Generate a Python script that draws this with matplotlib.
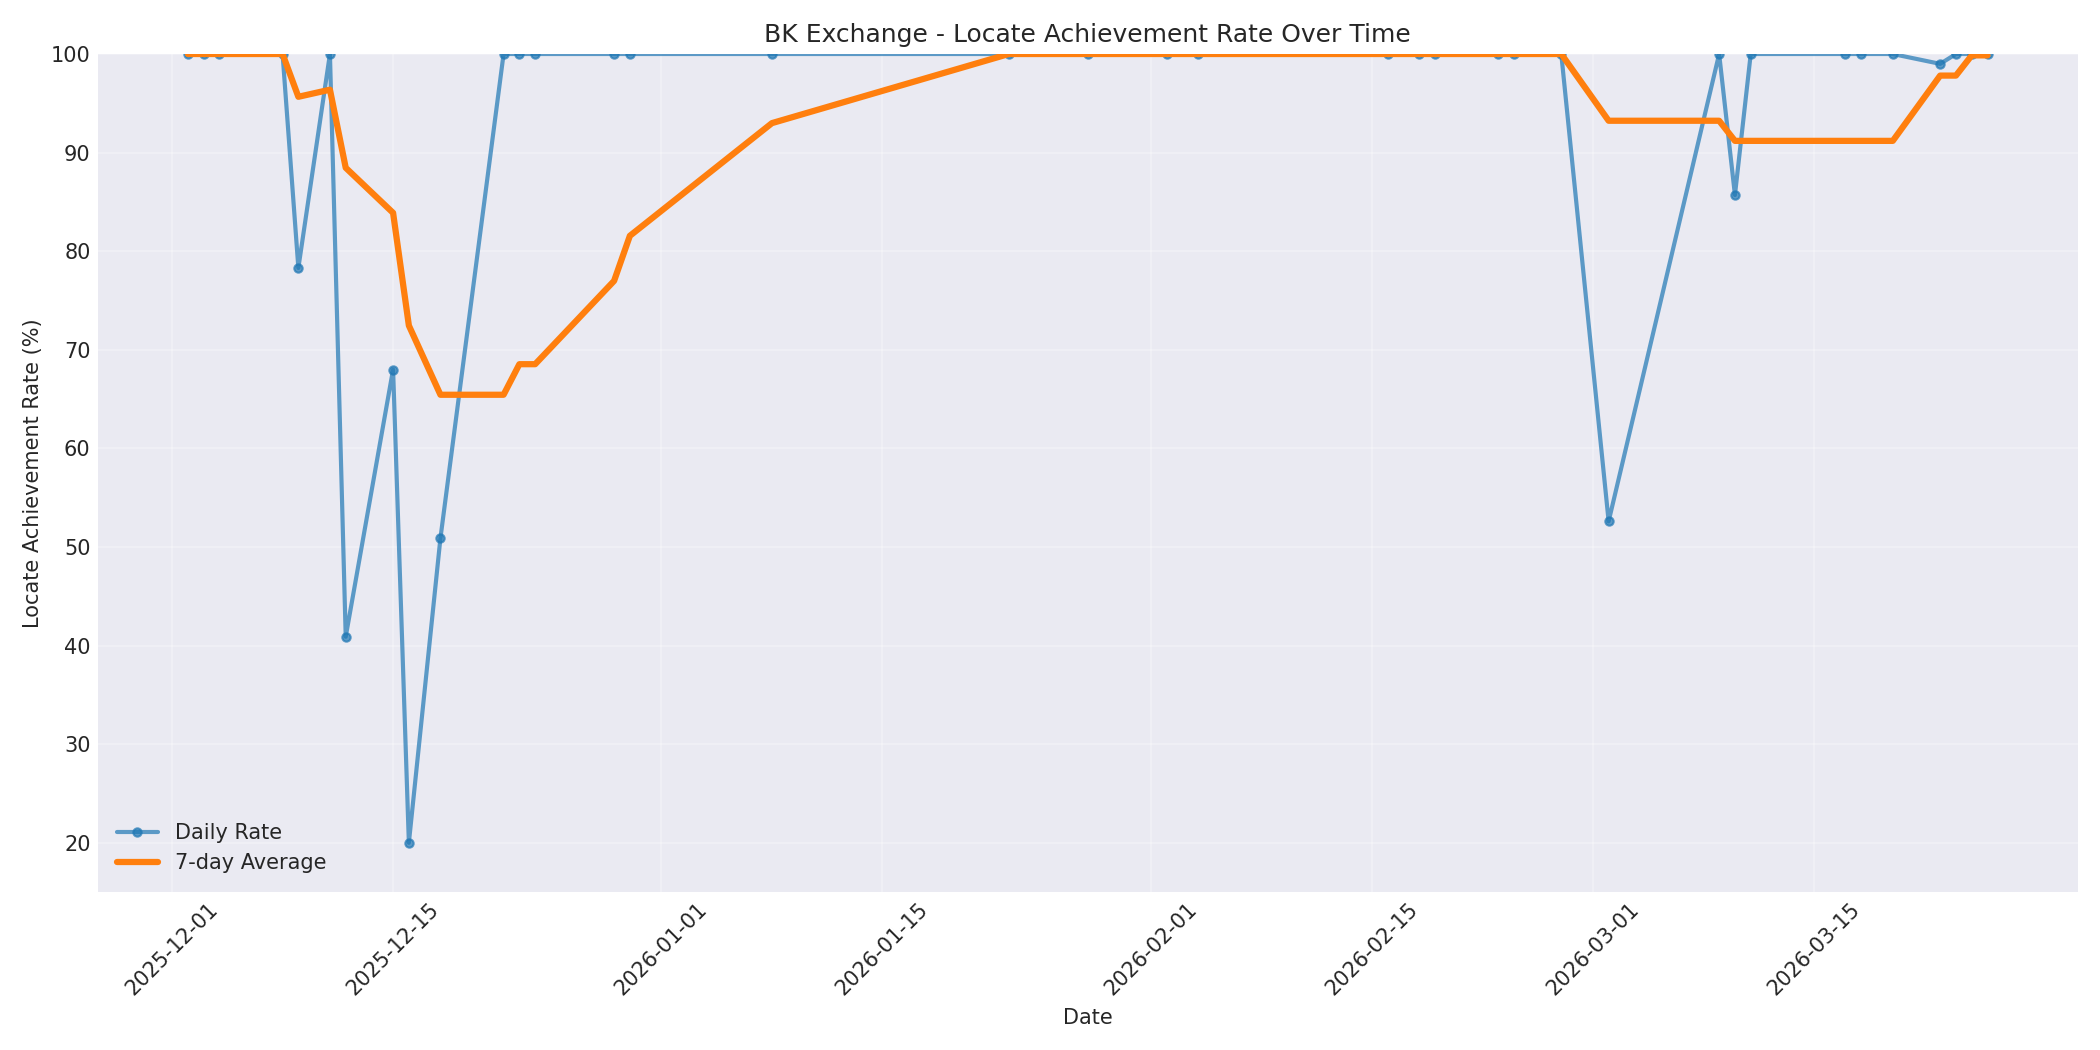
import matplotlib
matplotlib.use("Agg")
import matplotlib.pyplot as plt
import matplotlib.dates as mdates
import pandas as pd

dates = ["2025-12-02", "2025-12-03", "2025-12-04", "2025-12-08", "2025-12-09",
         "2025-12-11", "2025-12-12", "2025-12-15", "2025-12-16", "2025-12-18",
         "2025-12-22", "2025-12-23", "2025-12-24", "2025-12-29", "2025-12-30",
         "2026-01-08", "2026-01-23", "2026-01-28", "2026-02-02", "2026-02-04",
         "2026-02-16", "2026-02-18", "2026-02-19", "2026-02-23", "2026-02-24",
         "2026-02-27", "2026-03-02", "2026-03-09", "2026-03-10", "2026-03-11",
         "2026-03-17", "2026-03-18", "2026-03-20", "2026-03-23", "2026-03-24",
         "2026-03-25", "2026-03-26"]

daily_rate = [100, 100, 100, 100, 78.3,
              100, 40.9, 68.0, 20.0, 50.9,
              100, 100, 100, 100, 100,
              100, 100, 100, 100, 100,
              100, 100, 100, 100, 100,
              100, 52.6, 100, 85.7, 100,
              100, 100, 100, 99.0, 100,
              100, 100]

avg_7day = [100, 100, 100, 100, 95.66,
            96.38, 88.46, 83.89, 72.46, 65.44,
            65.44, 68.54, 68.54, 76.99, 81.56,
            92.99, 100, 100, 100, 100,
            100, 100, 100, 100, 100,
            100, 93.23, 93.23, 91.19, 91.19,
            91.19, 91.19, 91.19, 97.81, 97.81,
            99.86, 99.86]

x = pd.to_datetime(dates)

plt.style.use("seaborn-v0_8-darkgrid")
plt.rcParams['font.family'] = ['DejaVu Sans']
fig, ax = plt.subplots(figsize=(14, 7), dpi=150)

ax.plot(x, daily_rate, "o-", color="tab:blue", linewidth=2, markersize=4,
        alpha=0.7, label="Daily Rate")
ax.plot(x, avg_7day, "-", color="tab:orange", linewidth=3, label="7-day Average")

ax.set_title("BK Exchange - Locate Achievement Rate Over Time", fontsize=12)
ax.set_xlabel("Date")
ax.set_ylabel("Locate Achievement Rate (%)")
ax.set_ylim(15, 100)
ax.grid(True, alpha=0.3)
ax.legend(loc="lower left")
ax.xaxis.set_major_formatter(mdates.DateFormatter("%Y-%m-%d"))
plt.setp(ax.get_xticklabels(), rotation=45)

plt.tight_layout()
plt.savefig("out.png", dpi=150)
